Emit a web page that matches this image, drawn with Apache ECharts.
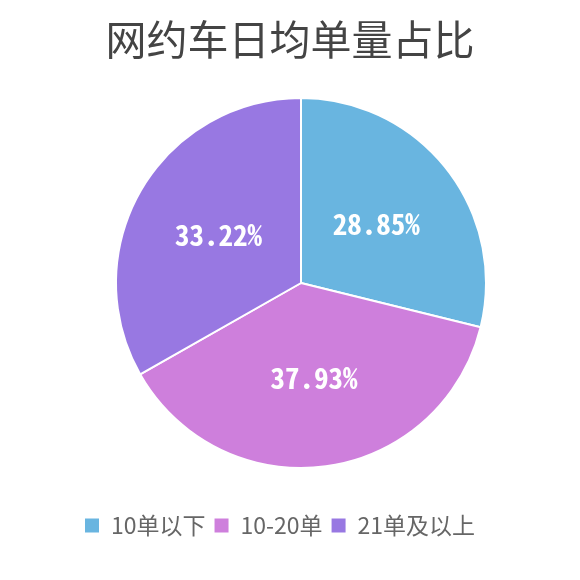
<!DOCTYPE html>
<html><head><meta charset="utf-8">
<script src="https://cdn.jsdelivr.net/npm/echarts@6/dist/echarts.min.js"></script>
<style>html,body{margin:0;padding:0;background:#fff}#c{width:580px;height:580px}</style>
</head><body><div id="c"></div>
<script>
var categories = ['10单以下', '10-20单', '21单及以上'];
var values = [28.85, 37.93, 33.22];
var colors = ['#69b5e0', '#ce7fdc', '#9878e2'];

var chart = echarts.init(document.getElementById('c'));
chart.setOption({
  animation: false,
  color: colors,
  title: {
    text: '网约车日均单量占比',
    left: 'center',
    top: 14,
    textStyle: { fontSize: 41, fontWeight: 'normal', color: '#444', fontFamily: 'Noto Sans CJK SC' }
  },
  legend: {
    top: 514,
    left: 85,
    padding: 0,
    icon: 'rect',
    itemWidth: 14,
    itemHeight: 14,
    itemGap: 9,
    itemStyle: { borderWidth: 0 },
    textStyle: { fontSize: 23, color: '#666', fontFamily: 'Noto Sans CJK SC', padding: [0, 0, 0, 7] },
    data: categories
  },
  series: [{
    type: 'pie',
    center: [301, 283],
    radius: [0, 185],
    startAngle: 90,
    clockwise: true,
    itemStyle: { borderColor: '#fff', borderWidth: 2 },
    label: {
      show: true,
      position: 'inside',
      formatter: function (p) { return p.value.toFixed(2) + '%'; },
      color: '#fff',
      fontSize: 29,
      fontWeight: 'bold',
      fontFamily: '"Noto Sans Mono CJK SC", "Liberation Mono", monospace'
    },
    labelLine: { show: false },
    data: categories.map(function (c, i) { return { name: c, value: values[i] }; })
  }]
});
</script></body></html>
